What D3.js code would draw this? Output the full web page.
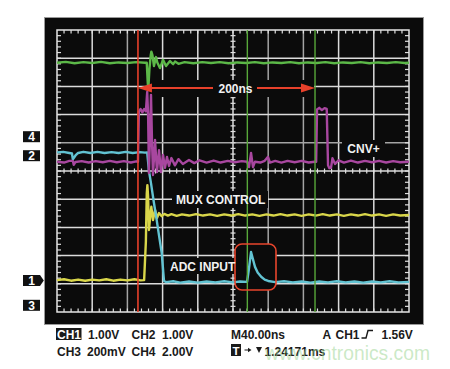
<!DOCTYPE html>
<html><head><meta charset="utf-8">
<script src="https://cdn.jsdelivr.net/npm/d3@7"></script>
<style>
html,body{margin:0;padding:0;background:#fff;}
svg{display:block;font-family:"Liberation Sans",Arial,Helvetica,sans-serif;font-weight:bold;}
</style>
</head><body>
<svg id="c" width="450" height="369"></svg>
<script>
// ---- data (time in ns, 40 ns/div; amplitude in screen divisions) ----
const timeDomain = [-200, 200];
const divDomain = [-5, 5];

const greenTrace = [[-200,3.84],[-190,3.87],[-180,3.82],[-170,3.86],[-160,3.83],[-150,3.87],[-140,3.82],[-130,3.85],[-120,3.83],[-110,3.86],[-100,3.84],[-98,3.84],[-97,3.2],[-96.3,2.87],[-95,3.6],[-93.5,4.1],[-92.8,4.23],[-91.5,4.1],[-89.8,3.72],[-87.5,4.04],[-86,3.85],[-83,3.65],[-79.5,3.94],[-76.1,3.72],[-71.6,3.9],[-68,3.79],[-65.9,3.88],[-62,3.8],[-55,3.86],[-45,3.82],[-35,3.86],[-25,3.83],[-15,3.86],[-5,3.82],[5,3.85],[15,3.83],[25,3.86],[35,3.82],[45,3.85],[55,3.83],[65,3.86],[75,3.82],[85,3.85],[95,3.83],[105,3.86],[115,3.82],[125,3.85],[135,3.83],[145,3.86],[155,3.82],[165,3.85],[175,3.83],[185,3.86],[195,3.83],[200,3.84]];

const magentaTrace = [[-200,0.33],[-192,0.30],[-186,0.36],[-182,0.36],[-181,0.22],[-179,0.32],[-172,0.35],[-164,0.30],[-156,0.35],[-148,0.31],[-140,0.36],[-132,0.31],[-124,0.35],[-116,0.30],[-110,0.34],[-108,0.33],[-107,2.1],[-105,2.2],[-103,2.08],[-101,2.2],[-99,2.12],[-97.5,2.8],[-96.5,2.0],[-95.5,-0.07],[-94,1.5],[-93.2,2.7],[-92,1.0],[-90.9,-0.14],[-88.6,1.1],[-86.4,-0.04],[-84.1,0.74],[-81.8,-0.04],[-79.5,0.57],[-77.3,0.11],[-75,0.5],[-72.7,0.18],[-70,0.46],[-66,0.2],[-62,0.42],[-57,0.25],[-50,0.39],[-44,0.28],[-38,0.38],[-30,0.3],[-22,0.37],[-14,0.3],[-6,0.36],[2,0.31],[10,0.35],[16,0.33],[18.2,0.14],[20.5,0.64],[22.7,0.14],[25,0.33],[31,0.3],[36,0.36],[39.8,0.5],[42,0.3],[48,0.36],[55,0.3],[62,0.36],[70,0.31],[78,0.36],[86,0.3],[93,0.33],[94.5,0.33],[95.5,2.18],[98,2.24],[101,2.16],[104,2.23],[106.5,2.2],[108,0.2],[109.5,0.1],[111.4,0.12],[113,0.45],[116,0.25],[120,0.38],[126,0.3],[134,0.37],[142,0.3],[150,0.36],[158,0.31],[166,0.36],[174,0.3],[182,0.35],[190,0.31],[200,0.33]];

const cyanTrace = [[-200,0.66],[-193,0.68],[-186,0.64],[-183,0.62],[-182,0.41],[-179,0.55],[-176,0.64],[-170,0.68],[-162,0.64],[-154,0.68],[-146,0.64],[-138,0.67],[-130,0.64],[-122,0.68],[-114,0.64],[-106,0.67],[-100,0.65],[-97.5,0.66],[-95.5,0.0],[-93.2,-0.43],[-90,-1.1],[-86.7,-1.74],[-84,-2.3],[-81,-2.91],[-78.4,-3.9],[-76,-3.94],[-68,-3.91],[-60,-3.96],[-50,-3.92],[-40,-3.96],[-30,-3.92],[-20,-3.95],[-10,-3.91],[0,-3.95],[8,-3.92],[16,-3.93],[18,-3.5],[20.5,-2.87],[22,-3.05],[25,-3.4],[28,-3.6],[32,-3.75],[36,-3.85],[40,-3.9],[48,-3.94],[58,-3.91],[68,-3.95],[78,-3.92],[88,-3.96],[98,-3.92],[108,-3.95],[118,-3.91],[128,-3.95],[138,-3.92],[148,-3.96],[158,-3.92],[168,-3.95],[178,-3.91],[188,-3.95],[200,-3.93]];

const yellowTrace = [[-200,-3.87],[-192,-3.84],[-184,-3.89],[-176,-3.85],[-168,-3.89],[-160,-3.85],[-152,-3.88],[-144,-3.84],[-136,-3.89],[-128,-3.85],[-120,-3.88],[-112,-3.84],[-105,-3.88],[-101,-3.87],[-99,-2.5],[-98,-0.8],[-97.3,-0.5],[-96.5,-0.9],[-95.5,-2.09],[-94,-1.6],[-92.8,-1.27],[-90.9,-1.74],[-88.6,-1.38],[-86.4,-1.67],[-84.1,-1.49],[-81,-1.6],[-78,-1.52],[-74,-1.58],[-70,-1.53],[-64,-1.59],[-58,-1.54],[-50,-1.58],[-42,-1.53],[-34,-1.58],[-26,-1.54],[-18,-1.59],[-10,-1.54],[-2,-1.58],[6,-1.53],[14,-1.58],[22,-1.54],[30,-1.59],[38,-1.54],[46,-1.58],[54,-1.53],[62,-1.58],[70,-1.54],[78,-1.59],[86,-1.54],[94,-1.58],[102,-1.53],[110,-1.58],[118,-1.54],[126,-1.59],[134,-1.54],[142,-1.58],[150,-1.53],[158,-1.58],[166,-1.54],[174,-1.59],[182,-1.54],[190,-1.58],[200,-1.56]];

const redCursor = -108;
const greenCursors = [16.3, 93.2];
const deltaLabel = "200ns";
const traceLabels = ["CNV+", "MUX CONTROL", "ADC INPUT"];
const channelMarkers = ["4", "2", "1", "3"];
const settingsRow1 = ["1.00V", "CH2", "1.00V"];
const settingsRow2 = ["CH3", "200mV", "CH4", "2.00V"];
const timebase = "M40.00ns";
const triggerText = ["A", "CH1", "1.56V"];
const triggerPos = "1.24171ms";

// ---- drawing ----
const svg = d3.select("#c");
const x = d3.scaleLinear().domain(timeDomain).range([57, 409]);
const y = d3.scaleLinear().domain(divDomain).range([312, 30]);

svg.append("rect").attr("x",0).attr("y",0).attr("width",450).attr("height",369).attr("fill","#fff");
svg.append("rect").attr("x",44.5).attr("y",17.5).attr("width",379).attr("height",307)
  .attr("fill","#0b0b0b").attr("stroke","#9a9a9a").attr("stroke-width",1);

const grid = svg.append("g");
const xLines = d3.range(-160, 200, 40);
const yLines = d3.range(-4, 5, 1);
const grayX = new Set([-120, 40, 80]);
const grayY = new Set([1]);
grid.selectAll(".vx").data(xLines).join("line")
  .attr("x1", d=>x(d)).attr("x2", d=>x(d)).attr("y1", y(5)).attr("y2", y(-5))
  .attr("stroke", d=>grayX.has(d)?"#a4a4a4":"#dcdcdc").attr("stroke-width",1.5);
grid.selectAll(".hy").data(yLines).join("line")
  .attr("y1", d=>y(d)).attr("y2", d=>y(d)).attr("x1", x(-200)).attr("x2", x(200))
  .attr("stroke", d=>grayY.has(d)?"#a4a4a4":"#dcdcdc").attr("stroke-width",1.5);
grid.append("rect").attr("x",x(-200)).attr("y",y(5)).attr("width",x(200)-x(-200)).attr("height",y(-5)-y(5))
  .attr("fill","none").attr("stroke","#e6e6e6").attr("stroke-width",1.5);

// minor ticks
const xMinor = d3.range(-192, 200, 8);
const yMinor = d3.range(-4.8, 5, 0.2);
const tk = grid.append("g").attr("stroke","#e0e0e0").attr("stroke-width",1.2);
xMinor.forEach(t=>{
  tk.append("line").attr("x1",x(t)).attr("x2",x(t)).attr("y1",y(5)).attr("y2",y(5)+3.5);
  tk.append("line").attr("x1",x(t)).attr("x2",x(t)).attr("y1",y(-5)).attr("y2",y(-5)-3.5);
  tk.append("line").attr("x1",x(t)).attr("x2",x(t)).attr("y1",y(0)-2.5).attr("y2",y(0)+2.5);
});
yMinor.forEach(v=>{
  tk.append("line").attr("y1",y(v)).attr("y2",y(v)).attr("x1",x(-200)).attr("x2",x(-200)+4);
  tk.append("line").attr("y1",y(v)).attr("y2",y(v)).attr("x1",x(200)).attr("x2",x(200)-4);
  tk.append("line").attr("y1",y(v)).attr("y2",y(v)).attr("x1",x(0)-2.5).attr("x2",x(0)+2.5);
});

// label boxes (hide grid behind)
const bg = "#0b0b0b";
svg.append("rect").attr("x",150).attr("y",80).attr("width",164).attr("height",17).attr("fill",bg);
svg.append("rect").attr("x",342).attr("y",140).attr("width",43).attr("height",17).attr("fill",bg);
svg.append("rect").attr("x",172).attr("y",191).attr("width",96).attr("height",17).attr("fill",bg);
svg.append("rect").attr("x",166).attr("y",258).attr("width",69).attr("height",16).attr("fill",bg);
svg.append("rect").attr("x",235).attr("y",244).attr("width",41).attr("height",46).attr("rx",7).attr("fill",bg);

// traces
const line = d3.line().x(d=>x(d[0])).y(d=>y(d[1]));
const traces = [
  [yellowTrace, "#d9d64a"],
  [cyanTrace, "#62c3d2"],
  [magentaTrace, "#a8479f"],
  [greenTrace, "#5cb848"]
];
traces.forEach(([data, col])=>{
  svg.append("path").attr("d", line(data)).attr("fill","none").attr("stroke",col)
    .attr("stroke-width",2.4).attr("stroke-linejoin","round");
});

// cursors
svg.append("line").attr("x1",x(redCursor)).attr("x2",x(redCursor)).attr("y1",y(5)).attr("y2",y(-5))
  .attr("stroke","#e8412b").attr("stroke-width",1.6);
svg.selectAll(".gc").data(greenCursors).join("line")
  .attr("x1",d=>x(d)).attr("x2",d=>x(d)).attr("y1",y(5)).attr("y2",y(-5))
  .attr("stroke","#58a83a").attr("stroke-width",1.4);

// highlight rounded rect
svg.append("rect").attr("x",235).attr("y",244).attr("width",41).attr("height",46).attr("rx",7)
  .attr("fill","none").attr("stroke","#e8452c").attr("stroke-width",1.6);

// delta arrow
const ay = 88, xl = x(redCursor), xr = x(greenCursors[1]);
svg.append("line").attr("x1",xl+12).attr("x2",213).attr("y1",ay).attr("y2",ay).attr("stroke","#e8412b").attr("stroke-width",2);
svg.append("line").attr("x1",257).attr("x2",xr-12).attr("y1",ay).attr("y2",ay).attr("stroke","#e8412b").attr("stroke-width",2);
svg.append("path").attr("d",`M${xl},${ay} L${xl+14},${ay-4.5} L${xl+14},${ay+4.5} Z`).attr("fill","#e8412b");
svg.append("path").attr("d",`M${xr},${ay} L${xr-14},${ay-4.5} L${xr-14},${ay+4.5} Z`).attr("fill","#e8412b");

const wt = (tx, xx, yy, anchor)=>svg.append("text").attr("x",xx).attr("y",yy).attr("fill","#f2f2f2")
  .attr("font-size",12).attr("text-anchor",anchor||"start").text(tx);
wt(deltaLabel, 235.5, 92.5, "middle");
wt(traceLabels[0], 363.5, 153, "middle");
wt(traceLabels[1], 176, 203.5);
wt(traceLabels[2], 170, 271);

// channel markers
const markerY = [136.7, 155.7, 280.5, 305.3];
channelMarkers.forEach((m,i)=>{
  const cy = markerY[i];
  svg.append("rect").attr("x",23).attr("y",cy-5.5).attr("width",17).attr("height",11).attr("fill","#111");
  if (m==="1") svg.append("path").attr("d",`M40,${cy-5.5} L43.8,${cy} L40,${cy+5.5} Z`).attr("fill","#111");
  svg.append("text").attr("x",31.5).attr("y",cy+4.3).attr("text-anchor","middle").attr("fill","#fff")
    .attr("font-size",12).text(m);
});

// bottom settings
const bt = (tx, xx, yy, anchor)=>svg.append("text").attr("x",xx).attr("y",yy).attr("fill","#1a1a1a")
  .attr("font-size",12).attr("text-anchor",anchor||"start").text(tx);
svg.append("rect").attr("x",56).attr("y",328).attr("width",25.5).attr("height",12).attr("fill","#1a1a1a");
svg.append("text").attr("x",57).attr("y",338.5).attr("fill","#fff").attr("font-size",12).text("CH1");
bt(settingsRow1[0], 88, 338.5);
bt(settingsRow1[1], 131.5, 338.5);
bt(settingsRow1[2], 162, 338.5);
bt(settingsRow2[0], 57, 355.5);
bt(settingsRow2[1], 87, 355.5);
bt(settingsRow2[2], 131.5, 355.5);
bt(settingsRow2[3], 162, 355.5);
bt(timebase, 231, 338.5);
bt(triggerText[0], 322.5, 338.5);
bt(triggerText[1], 335.5, 338.5).attr("textLength",24).attr("lengthAdjust","spacingAndGlyphs");
svg.append("path").attr("d","M361.5,338 H366 L368,330.5 H373").attr("fill","none").attr("stroke","#1a1a1a").attr("stroke-width",1.4);
bt(triggerText[2], 381.5, 338.5);
svg.append("rect").attr("x",231).attr("y",344).attr("width",10).attr("height",12).attr("fill","#1a1a1a");
svg.append("text").attr("x",236).attr("y",354.5).attr("text-anchor","middle").attr("fill","#fff").attr("font-size",11.5).text("T");
svg.append("line").attr("x1",244.5).attr("x2",248).attr("y1",350).attr("y2",350).attr("stroke","#1a1a1a").attr("stroke-width",1);
svg.append("path").attr("d","M248,347.8 L251.5,350 L248,352.2 Z").attr("fill","#1a1a1a");
svg.append("path").attr("d","M256,347 L262,347 L259,353 Z").attr("fill","#1a1a1a");
bt(triggerPos, 264.5, 355.5);

// watermark
svg.append("text").attr("x",265).attr("y",360).attr("font-size",21).attr("font-weight","normal")
  .attr("textLength",165).attr("lengthAdjust","spacingAndGlyphs")
  .attr("fill","rgba(160,215,150,0.55)").text("www.cntronics.com");
</script>
</body></html>
